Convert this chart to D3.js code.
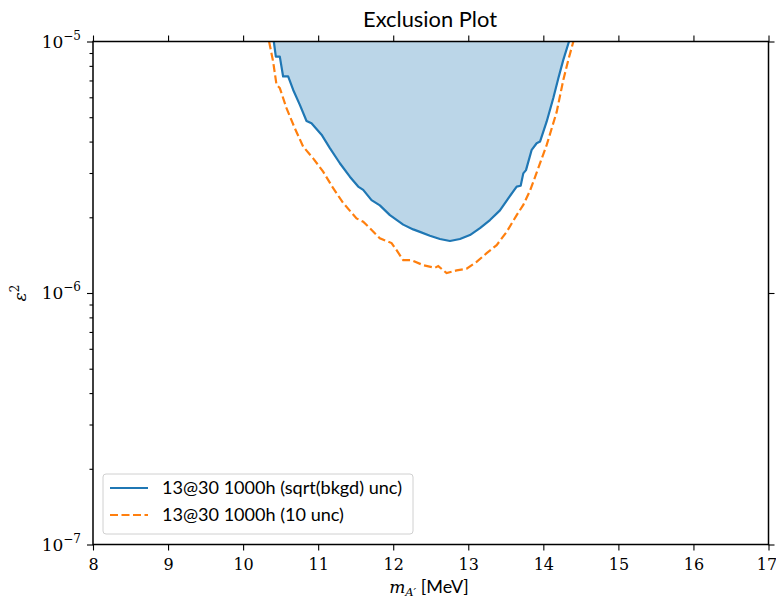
<!DOCTYPE html>
<html><head><meta charset="utf-8">
<script src="https://cdn.jsdelivr.net/npm/d3@7"></script>
<style>body{margin:0;background:#fff}</style>
</head><body><svg id="c" width="776" height="604"></svg>
<script>
// ---- data ----
const xTicks = [8, 9, 10, 11, 12, 13, 14, 15, 16, 17];
const yTickExps = [-5, -6, -7];
const titleText = "Exclusion Plot";
const seriesLabels = ["13@30 1000h (sqrt(bkgd) unc)", "13@30 1000h (10 unc)"];

const massSqrt = [10.409, 10.436, 10.489, 10.533, 10.600, 10.666, 10.756, 10.845, 10.911, 11.045, 11.156, 11.289, 11.422, 11.533, 11.600, 11.711, 11.822, 11.956, 12.133, 12.266, 12.356, 12.489, 12.622, 12.756, 12.889, 13.022, 13.156, 13.289, 13.422, 13.533, 13.645, 13.698, 13.733, 13.769, 13.845, 13.911, 13.956, 14.045, 14.133, 14.200, 14.266, 14.342];
const epsSqrt  = [1.00e-5, 8.71e-6, 8.71e-6, 7.26e-6, 7.26e-6, 6.43e-6, 5.60e-6, 4.83e-6, 4.73e-6, 4.26e-6, 3.77e-6, 3.28e-6, 2.90e-6, 2.65e-6, 2.57e-6, 2.34e-6, 2.23e-6, 2.04e-6, 1.87e-6, 1.79e-6, 1.75e-6, 1.69e-6, 1.64e-6, 1.61e-6, 1.64e-6, 1.70e-6, 1.81e-6, 1.95e-6, 2.13e-6, 2.38e-6, 2.65e-6, 2.67e-6, 2.99e-6, 3.08e-6, 3.71e-6, 3.94e-6, 4.00e-6, 4.81e-6, 5.96e-6, 7.14e-6, 8.45e-6, 1.00e-5];

const mass10 = [10.346, 10.400, 10.445, 10.489, 10.578, 10.689, 10.800, 10.933, 11.066, 11.200, 11.333, 11.511, 11.600, 11.689, 11.822, 11.978, 12.045, 12.133, 12.245, 12.400, 12.556, 12.600, 12.711, 12.845, 12.978, 13.111, 13.245, 13.378, 13.511, 13.645, 13.733, 13.822, 13.911, 14.045, 14.178, 14.267, 14.333, 14.400];
const eps10  = [1.00e-5, 8.32e-6, 6.73e-6, 6.53e-6, 5.43e-6, 4.52e-6, 3.82e-6, 3.43e-6, 3.04e-6, 2.61e-6, 2.28e-6, 1.98e-6, 1.92e-6, 1.81e-6, 1.65e-6, 1.58e-6, 1.48e-6, 1.35e-6, 1.35e-6, 1.29e-6, 1.26e-6, 1.28e-6, 1.20e-6, 1.23e-6, 1.25e-6, 1.33e-6, 1.44e-6, 1.55e-6, 1.75e-6, 2.04e-6, 2.24e-6, 2.55e-6, 3.01e-6, 3.88e-6, 5.25e-6, 7.05e-6, 8.45e-6, 1.00e-5];

// ---- layout ----
const L = 93, T = 41.5, R = 768.5, B = 544.5;
const svg = d3.select("#c");
const x = d3.scaleLinear().domain([8, 17]).range([L, R]);
const y = d3.scaleLog().domain([1e-7, 1e-5]).range([B, T]);
const blue = "#1f77b4", orange = "#ff7f0e";
const serif = "'DejaVu Serif', serif";
const sans = "Lato, 'DejaVu Sans', sans-serif";

// fit a text's font size so that its width matches a target width
function fitWidth(sel, target) {
  const w = sel.node().getComputedTextLength();
  const fs = parseFloat(sel.attr("font-size"));
  if (w > 0) sel.attr("font-size", (fs * target / w).toFixed(2));
}

svg.append("clipPath").attr("id", "clip").append("rect")
  .attr("x", L).attr("y", T).attr("width", R - L).attr("height", B - T);

const g = svg.append("g").attr("clip-path", "url(#clip)");
const s1 = massSqrt.map((m, i) => [m, epsSqrt[i]]);
const s2 = mass10.map((m, i) => [m, eps10[i]]);

g.append("path").datum(s1)
  .attr("d", d3.area().x(d => x(d[0])).y0(y(1e-5)).y1(d => y(d[1])))
  .attr("fill", blue).attr("fill-opacity", 0.3);
g.append("path").datum(s1)
  .attr("d", d3.line().x(d => x(d[0])).y(d => y(d[1])))
  .attr("fill", "none").attr("stroke", blue).attr("stroke-width", 2.2).attr("stroke-linejoin", "round");
g.append("path").datum(s2)
  .attr("d", d3.line().x(d => x(d[0])).y(d => y(d[1])))
  .attr("fill", "none").attr("stroke", orange).attr("stroke-width", 2.2)
  .attr("stroke-dasharray", "8,3.5");

// ---- axes ----
function styleAxis(sel) {
  sel.select(".domain").remove();
  sel.selectAll(".tick line").attr("stroke", "#000").attr("stroke-width", 1.1);
}
const fmtNone = () => "";
svg.append("g").attr("transform", `translate(0,${B})`)
  .call(d3.axisBottom(x).tickValues(xTicks).tickSize(6).tickPadding(8).tickFormat(d => d))
  .call(styleAxis)
  .call(s => s.selectAll(".tick text").attr("font-family", serif).attr("font-size", 16).attr("fill", "#000").attr("dy", "0.72em"))
  .call(s => s.selectAll(".tick").filter(d => d === 17).select("text").attr("dx", -2));
svg.append("g").attr("transform", `translate(0,${T})`)
  .call(d3.axisTop(x).tickValues(xTicks).tickSize(6).tickFormat(fmtNone))
  .call(styleAxis);

const majorY = yTickExps.map(e => Math.pow(10, e));
const minorY = [];
[-7, -6].forEach(e => { for (let k = 2; k <= 9; k++) minorY.push(k * Math.pow(10, e)); });
svg.append("g").attr("transform", `translate(${L},0)`)
  .call(d3.axisLeft(y).tickValues(majorY).tickSize(6).tickFormat(fmtNone))
  .call(styleAxis);
svg.append("g").attr("transform", `translate(${L},0)`)
  .call(d3.axisLeft(y).tickValues(minorY).tickSize(3.5).tickFormat(fmtNone))
  .call(styleAxis);
svg.append("g").attr("transform", `translate(${R},0)`)
  .call(d3.axisRight(y).tickValues(majorY).tickSize(6).tickFormat(fmtNone))
  .call(styleAxis);

// y tick labels with superscripts
yTickExps.forEach(e => {
  const t = svg.append("text").attr("x", 81).attr("y", y(Math.pow(10, e)) + 6)
    .attr("text-anchor", "end").attr("font-family", serif).attr("font-size", 17).attr("fill", "#000");
  t.append("tspan").text("10");
  t.append("tspan").attr("dy", -8).attr("font-size", 12).text("\u2212" + (-e));
});

// frame
svg.append("rect").attr("x", L).attr("y", T).attr("width", R - L).attr("height", B - T)
  .attr("fill", "none").attr("stroke", "#000").attr("stroke-width", 1.5);

// title
const title = svg.append("text").attr("x", 430).attr("y", 27).attr("text-anchor", "middle")
  .attr("font-family", sans).attr("font-size", 20).attr("fill", "#000").text(titleText);
fitWidth(title, 134);

// x label
const xl = svg.append("text").attr("x", 429).attr("y", 593).attr("text-anchor", "middle")
  .attr("font-size", 17).attr("fill", "#000");
xl.append("tspan").attr("font-family", serif).attr("font-style", "italic").text("m");
xl.append("tspan").attr("font-family", serif).attr("font-style", "italic").attr("font-size", 11.5).attr("dy", 3).text("A\u2032");
xl.append("tspan").attr("font-family", sans).attr("font-size", 18).attr("dy", -3).text(" [MeV]");

// y label
const yl = svg.append("text").attr("transform", `translate(26,${(T + B) / 2}) rotate(-90)`)
  .attr("text-anchor", "middle").attr("font-family", serif).attr("font-size", 17).attr("fill", "#000");
yl.append("tspan").attr("font-style", "italic").text("\u03b5");
yl.append("tspan").attr("font-size", 12).attr("dy", -7).text("2");

// legend
const lg = svg.append("g");
lg.append("rect").attr("x", 103).attr("y", 474).attr("width", 310).attr("height", 60).attr("rx", 3)
  .attr("fill", "#fff").attr("fill-opacity", 0.8).attr("stroke", "#d0d0d0").attr("stroke-width", 1);
let legFs = null;
[[blue, null, 488], [orange, "8,3.5", 515]].forEach(([c, dash, yy], i) => {
  lg.append("line").attr("x1", 110).attr("x2", 148).attr("y1", yy).attr("y2", yy)
    .attr("stroke", c).attr("stroke-width", 2.2).attr("stroke-dasharray", dash);
  const t = lg.append("text").attr("x", 162).attr("y", yy + 6).attr("font-family", sans)
    .attr("font-size", legFs || 15.8).attr("fill", "#000").text(seriesLabels[i]);
  if (i === 0) { fitWidth(t, 240); legFs = t.attr("font-size"); }
});
</script>
</body></html>
